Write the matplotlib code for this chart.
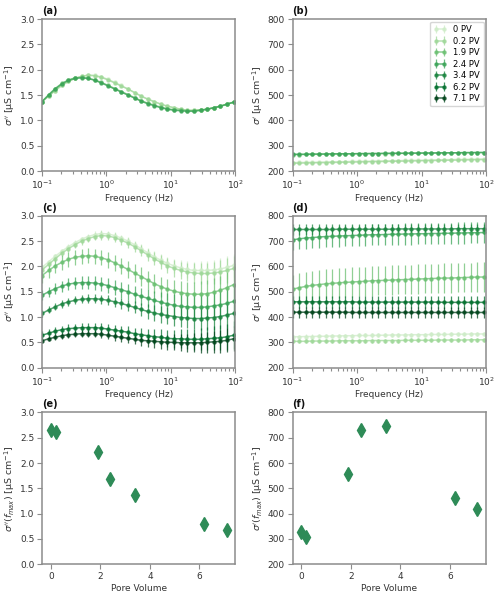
import numpy as np
import matplotlib
matplotlib.use("Agg")
import matplotlib.pyplot as plt

# frequencies (Hz)
freq = [0.100, 0.127, 0.160, 0.203, 0.257, 0.325, 0.412, 0.521, 0.660, 0.835,
        1.06, 1.34, 1.69, 2.15, 2.72, 3.44, 4.35, 5.51, 6.98, 8.83,
        11.2, 14.2, 17.9, 22.7, 28.7, 36.4, 46.0, 58.3, 73.8, 93.4]

labels = ["0 PV", "0.2 PV", "1.9 PV", "2.4 PV", "3.4 PV", "6.2 PV", "7.1 PV"]
pore_volume = [0, 0.2, 1.9, 2.4, 3.4, 6.2, 7.1]

# (a) imaginary conductivity, reference columns (0, 0.2, 1.9, 2.4 PV)
a_0 = [1.37, 1.48, 1.59, 1.69, 1.77, 1.83, 1.87, 1.90, 1.89, 1.86, 1.81, 1.75, 1.69, 1.62, 1.55,
       1.48, 1.42, 1.37, 1.32, 1.28, 1.25, 1.22, 1.20, 1.20, 1.21, 1.22, 1.25, 1.28, 1.32, 1.36]
a_02 = [1.37, 1.48, 1.59, 1.69, 1.77, 1.83, 1.87, 1.89, 1.88, 1.85, 1.80, 1.74, 1.68, 1.62, 1.55,
        1.48, 1.42, 1.37, 1.32, 1.28, 1.25, 1.22, 1.20, 1.20, 1.21, 1.22, 1.25, 1.28, 1.32, 1.36]
a_19 = [1.37, 1.51, 1.63, 1.73, 1.80, 1.84, 1.85, 1.83, 1.80, 1.75, 1.69, 1.63, 1.57, 1.51, 1.45,
        1.39, 1.34, 1.30, 1.26, 1.23, 1.21, 1.20, 1.19, 1.19, 1.20, 1.22, 1.25, 1.28, 1.32, 1.36]
a_24 = [1.37, 1.50, 1.62, 1.72, 1.79, 1.83, 1.84, 1.83, 1.79, 1.74, 1.68, 1.62, 1.56, 1.50, 1.44,
        1.38, 1.33, 1.29, 1.25, 1.22, 1.20, 1.19, 1.18, 1.18, 1.20, 1.22, 1.25, 1.28, 1.32, 1.36]
a_err = [0.03, 0.03, 0.02, 0.02]

# (b) real conductivity, reference columns
b_0 = [233, 234, 234, 235, 235, 236, 236, 237, 237, 238, 238, 239, 239, 240, 240,
       241, 241, 242, 242, 243, 243, 244, 244, 245, 245, 246, 246, 247, 247, 248]
b_02 = [231, 231, 232, 232, 233, 233, 234, 234, 235, 235, 236, 236, 237, 237, 238,
        238, 239, 239, 240, 240, 241, 241, 242, 242, 243, 243, 244, 244, 245, 245]
b_19 = [265, 265, 266, 266, 266, 267, 267, 267, 268, 268, 268, 268, 269, 269, 269,
        269, 270, 270, 270, 270, 271, 271, 271, 271, 272, 272, 272, 272, 273, 273]
b_24 = [266, 266, 266, 267, 267, 267, 268, 268, 268, 268, 269, 269, 269, 269, 270,
        270, 270, 270, 271, 271, 271, 271, 272, 272, 272, 272, 273, 273, 273, 273]
b_err = [4, 4, 3, 3]

# (c) imaginary conductivity, treated columns
c_0 = [1.98, 2.09, 2.20, 2.30, 2.39, 2.47, 2.54, 2.59, 2.63, 2.65, 2.64, 2.61, 2.56, 2.50, 2.43,
       2.35, 2.27, 2.19, 2.12, 2.06, 2.01, 1.97, 1.94, 1.92, 1.92, 1.92, 1.93, 1.95, 1.98, 2.02]
c_02 = [1.93, 2.04, 2.15, 2.26, 2.35, 2.43, 2.50, 2.55, 2.59, 2.61, 2.60, 2.57, 2.52, 2.46, 2.39,
        2.31, 2.23, 2.15, 2.08, 2.01, 1.96, 1.92, 1.89, 1.87, 1.86, 1.86, 1.87, 1.89, 1.92, 1.96]
c_19 = [1.82, 1.92, 2.01, 2.08, 2.14, 2.18, 2.20, 2.21, 2.20, 2.17, 2.13, 2.07, 2.01, 1.94, 1.87,
        1.80, 1.73, 1.66, 1.60, 1.55, 1.51, 1.48, 1.46, 1.45, 1.45, 1.46, 1.49, 1.53, 1.58, 1.64]
c_24 = [1.43, 1.50, 1.56, 1.61, 1.65, 1.67, 1.68, 1.68, 1.67, 1.65, 1.62, 1.58, 1.54, 1.50, 1.45,
        1.41, 1.37, 1.33, 1.29, 1.26, 1.23, 1.21, 1.20, 1.19, 1.19, 1.20, 1.22, 1.24, 1.27, 1.31]
c_34 = [1.07, 1.14, 1.20, 1.26, 1.30, 1.33, 1.35, 1.36, 1.36, 1.35, 1.33, 1.30, 1.27, 1.23, 1.19,
        1.15, 1.11, 1.08, 1.05, 1.03, 1.01, 0.99, 0.98, 0.97, 0.97, 0.98, 0.99, 1.01, 1.04, 1.07]
c_62 = [0.64, 0.68, 0.72, 0.75, 0.77, 0.78, 0.79, 0.79, 0.79, 0.78, 0.76, 0.74, 0.72, 0.70, 0.67,
        0.65, 0.63, 0.61, 0.60, 0.58, 0.57, 0.57, 0.56, 0.56, 0.56, 0.57, 0.58, 0.59, 0.61, 0.64]
c_71 = [0.53, 0.57, 0.60, 0.63, 0.65, 0.66, 0.67, 0.67, 0.67, 0.66, 0.64, 0.62, 0.60, 0.58, 0.56,
        0.54, 0.53, 0.52, 0.51, 0.50, 0.50, 0.49, 0.49, 0.49, 0.49, 0.50, 0.51, 0.52, 0.54, 0.57]

c_err_0 = [0.04, 0.04, 0.04, 0.04, 0.05, 0.05, 0.05, 0.05, 0.06, 0.06, 0.06, 0.07, 0.07, 0.08, 0.08,
           0.09, 0.10, 0.11, 0.12, 0.13, 0.14, 0.15, 0.16, 0.17, 0.18, 0.19, 0.20, 0.21, 0.22, 0.23]
c_err_02 = [0.05, 0.05, 0.05, 0.06, 0.06, 0.06, 0.07, 0.07, 0.07, 0.08, 0.08, 0.09, 0.09, 0.10, 0.10,
            0.11, 0.12, 0.13, 0.14, 0.15, 0.16, 0.17, 0.18, 0.19, 0.20, 0.21, 0.22, 0.23, 0.24, 0.25]
c_err_19 = [0.14, 0.14, 0.14, 0.15, 0.15, 0.15, 0.15, 0.15, 0.15, 0.15, 0.16, 0.16, 0.16, 0.17, 0.17,
            0.18, 0.18, 0.19, 0.20, 0.21, 0.22, 0.23, 0.24, 0.25, 0.26, 0.27, 0.28, 0.29, 0.30, 0.31]
c_err_24 = [0.10, 0.10, 0.11, 0.11, 0.12, 0.12, 0.13, 0.13, 0.14, 0.14, 0.15, 0.15, 0.16, 0.16, 0.17,
            0.17, 0.18, 0.19, 0.20, 0.21, 0.22, 0.23, 0.24, 0.25, 0.26, 0.27, 0.28, 0.29, 0.30, 0.31]
c_err_34 = [0.07, 0.07, 0.07, 0.08, 0.08, 0.08, 0.08, 0.09, 0.09, 0.09, 0.10, 0.10, 0.11, 0.11, 0.12,
            0.13, 0.14, 0.15, 0.16, 0.17, 0.18, 0.19, 0.20, 0.21, 0.22, 0.23, 0.24, 0.25, 0.26, 0.27]
c_err_62 = [0.08, 0.08, 0.08, 0.08, 0.09, 0.09, 0.09, 0.09, 0.10, 0.10, 0.10, 0.11, 0.11, 0.12, 0.12,
            0.13, 0.14, 0.15, 0.16, 0.17, 0.18, 0.19, 0.20, 0.21, 0.22, 0.23, 0.24, 0.25, 0.26, 0.28]
c_err_71 = [0.05, 0.05, 0.06, 0.06, 0.06, 0.06, 0.07, 0.07, 0.07, 0.08, 0.08, 0.09, 0.09, 0.10, 0.10,
            0.11, 0.12, 0.13, 0.14, 0.15, 0.16, 0.17, 0.18, 0.19, 0.20, 0.21, 0.22, 0.23, 0.24, 0.25]

# (d) real conductivity, treated columns
d_0 = [322, 322, 323, 323, 324, 324, 325, 325, 326, 326, 327, 327, 327, 328, 328,
       329, 329, 329, 330, 330, 330, 331, 331, 331, 332, 332, 332, 333, 333, 333]
d_02 = [304, 304, 304, 305, 305, 305, 305, 306, 306, 306, 306, 306, 307, 307, 307,
        307, 307, 308, 308, 308, 308, 308, 309, 309, 309, 309, 309, 310, 310, 310]
d_19 = [510, 516, 521, 525, 528, 531, 533, 535, 537, 538, 540, 541, 543, 544, 545,
        546, 547, 548, 549, 550, 551, 552, 553, 554, 554, 555, 556, 557, 558, 558]
d_24 = [705, 709, 712, 714, 716, 718, 719, 720, 721, 722, 723, 724, 725, 725, 726,
        727, 727, 728, 728, 729, 729, 730, 730, 731, 731, 732, 732, 733, 733, 734]
d_34 = [746, 746, 746, 746, 746, 746, 746, 747, 747, 747, 747, 747, 747, 747, 747,
        747, 748, 748, 748, 748, 748, 748, 748, 748, 748, 749, 749, 749, 749, 749]
d_62 = [460, 460, 460, 460, 460, 460, 460, 460, 460, 460, 459, 459, 459, 459, 459,
        459, 459, 459, 459, 459, 459, 459, 459, 458, 458, 458, 458, 458, 458, 458]
d_71 = [419, 419, 419, 419, 419, 419, 419, 419, 419, 418, 418, 418, 418, 418, 418,
        418, 418, 418, 418, 418, 418, 418, 418, 418, 418, 418, 418, 418, 418, 418]
d_err = [8, 8, 58, 42, 20, 25, 22]

# (e), (f) values at peak frequency
sigma_im_max = [2.65, 2.62, 2.22, 1.68, 1.37, 0.79, 0.68]
sigma_re_max = [328, 308, 557, 731, 748, 461, 419]

colors = plt.cm.Greens([0.22, 0.38, 0.52, 0.65, 0.78, 0.86, 1.0])
spine_col = '#8c8c8c'
text_col = '#333333'

plt.rcParams.update({
    'font.family': 'DejaVu Sans',
    'font.size': 6.5,
    'axes.edgecolor': spine_col,
    'axes.linewidth': 1.1,
    'axes.labelcolor': text_col,
    'axes.labelsize': 6.8,
    'axes.labelpad': 2,
    'xtick.color': spine_col,
    'ytick.color': spine_col,
    'xtick.labelcolor': text_col,
    'ytick.labelcolor': text_col,
    'xtick.labelsize': 6.5,
    'ytick.labelsize': 6.5,
    'xtick.major.pad': 2,
    'ytick.major.pad': 2,
})

fig, axs = plt.subplots(3, 2, figsize=(5.0, 5.99), dpi=100)
fig.subplots_adjust(left=0.084, right=0.972, top=0.968, bottom=0.058, wspace=0.295, hspace=0.295)

lab_im = r"$\sigma''$ [µS cm$^{-1}$]"
lab_re = r"$\sigma'$ [µS cm$^{-1}$]"


def draw_spectra(ax, series, errs, idx):
    for y, e, i in zip(series, errs, idx):
        ax.errorbar(freq, y, yerr=e, color=colors[i], marker='o', ms=2.2, lw=1.1,
                    elinewidth=0.9, capsize=0, alpha=0.75, label=labels[i])
    ax.set_xscale('log')
    ax.set_xlim(0.1, 100)
    ax.set_xlabel('Frequency (Hz)', fontsize=6.5)


ref_idx = [0, 1, 2, 3]
all_idx = [0, 1, 2, 3, 4, 5, 6]

ax = axs[0, 0]
draw_spectra(ax, [a_0, a_02, a_19, a_24], a_err, ref_idx)
ax.set_ylim(0, 3)
ax.set_ylabel(lab_im)

ax = axs[0, 1]
draw_spectra(ax, [b_0, b_02, b_19, b_24], b_err, ref_idx)
# legend shows all seven columns
for i in [4, 5, 6]:
    ax.errorbar([], [], yerr=[], color=colors[i], marker='o', ms=2.2, lw=1.1,
                elinewidth=0.9, alpha=0.75, label=labels[i])
ax.set_ylim(200, 800)
ax.set_ylabel(lab_re)
ax.legend(loc='upper right', fontsize=6, numpoints=2, borderaxespad=0.3,
          handlelength=1.6, labelspacing=0.3, edgecolor='#cccccc')

ax = axs[1, 0]
draw_spectra(ax, [c_0, c_02, c_19, c_24, c_34, c_62, c_71],
             [c_err_0, c_err_02, c_err_19, c_err_24, c_err_34, c_err_62, c_err_71], all_idx)
ax.set_ylim(0, 3)
ax.set_ylabel(lab_im)

ax = axs[1, 1]
draw_spectra(ax, [d_0, d_02, d_19, d_24, d_34, d_62, d_71], d_err, all_idx)
ax.set_ylim(200, 800)
ax.set_ylabel(lab_re)

ax = axs[2, 0]
ax.plot(pore_volume, sigma_im_max, 'd', color='#2e8b57', ms=7)
ax.set_ylim(0, 3)
ax.set_xticks([0, 2, 4, 6])
ax.set_xlabel('Pore Volume', fontsize=6.5)
ax.set_ylabel(r"$\sigma''(f_{max})$ [µS cm$^{-1}$]")

ax = axs[2, 1]
ax.plot(pore_volume, sigma_re_max, 'd', color='#2e8b57', ms=7)
ax.set_ylim(200, 800)
ax.set_xticks([0, 2, 4, 6])
ax.set_xlabel('Pore Volume', fontsize=6.5)
ax.set_ylabel(r"$\sigma'(f_{max})$ [µS cm$^{-1}$]")

for ax, t in zip(axs.flat, ['(a)', '(b)', '(c)', '(d)', '(e)', '(f)']):
    ax.text(0.0, 1.02, t, transform=ax.transAxes, fontsize=7, fontweight='bold',
            ha='left', va='bottom', color='#111111')
    ax.tick_params(which='both', direction='out', width=0.8)
    ax.tick_params(which='major', length=3.5)
    ax.tick_params(which='minor', length=2)

fig.savefig('out.png', dpi=100)
